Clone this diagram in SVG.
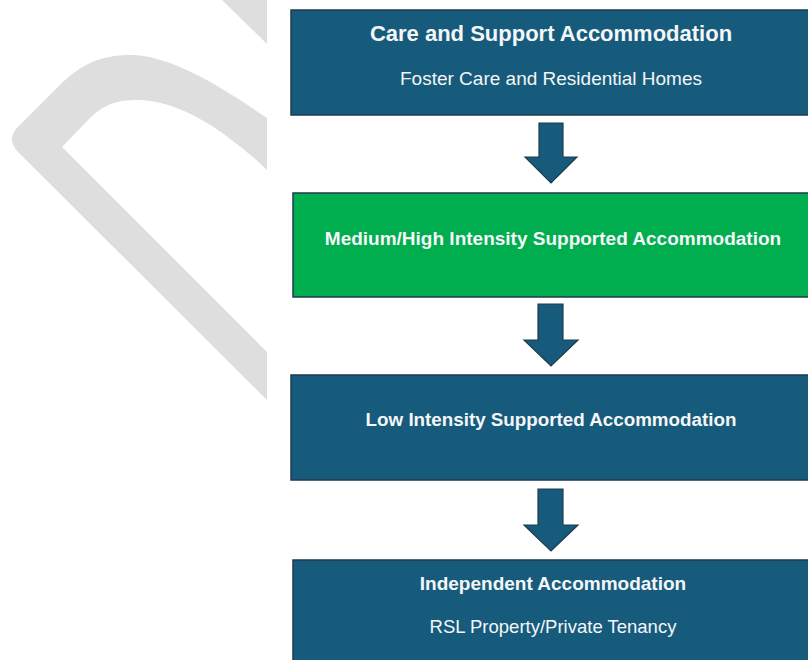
<svg xmlns="http://www.w3.org/2000/svg" width="808" height="660" viewBox="0 0 808 660">
  <style>
    .box { fill: #175b7c; stroke: #1f3b4e; stroke-width: 1.5; }
    .green { fill: #00ad4f; stroke: #1f3b4e; stroke-width: 1.5; }
    .arrow { fill: #175b7c; stroke: #1f3b4e; stroke-width: 1.2; stroke-linejoin: miter; }
    .t { font-family: "Liberation Sans", Arial, sans-serif; fill: #f4f6f8; text-anchor: middle; }
    .b { font-weight: bold; }
    .wm { fill: #dedede; }
  </style>
  <rect x="0" y="0" width="808" height="660" fill="#ffffff"/>
  <g id="watermark">
    <path class="wm" d="M222,0 L267,0 L267,44 Z"/>
    <path class="wm" d="M267,118 C215,82 168,55 130,55 C100,55 80,65 60,85 L16,129 Q7,140 18,152 L267,400 L267,352 L62,147 L90,118 C105,104 117,100 138,100 C178,100 225,130 267,170 Z"/>
  </g>
  <g id="connectors">
    <path class="arrow" d="M539,123 L563,123 L563,157 L577,157 L551,183 L525,157 L539,157 Z"/>
    <path class="arrow" d="M538,304 L563,304 L563,340 L578,340 L551,366 L524,340 L538,340 Z"/>
    <path class="arrow" d="M538,489 L563,489 L563,525 L578,525 L551,551 L524,525 L538,525 Z"/>
  </g>
  <g id="node-care">
    <rect class="box" x="291" y="10" width="530" height="105"/>
    <text class="t b" x="551" y="41" font-size="22">Care and Support Accommodation</text>
    <text class="t" x="551" y="85" font-size="19">Foster Care and Residential Homes</text>
  </g>
  <g id="node-medium">
    <rect class="green" x="293" y="193" width="530" height="104"/>
    <text class="t b" x="553" y="245" font-size="19">Medium/High Intensity Supported Accommodation</text>
  </g>
  <g id="node-low">
    <rect class="box" x="291" y="375" width="530" height="105"/>
    <text class="t b" x="551" y="426" font-size="18.8">Low Intensity Supported Accommodation</text>
  </g>
  <g id="node-independent">
    <rect class="box" x="293" y="560" width="530" height="110"/>
    <text class="t b" x="553" y="590" font-size="19">Independent Accommodation</text>
    <text class="t" x="553" y="633" font-size="18.5">RSL Property/Private Tenancy</text>
  </g>
</svg>
